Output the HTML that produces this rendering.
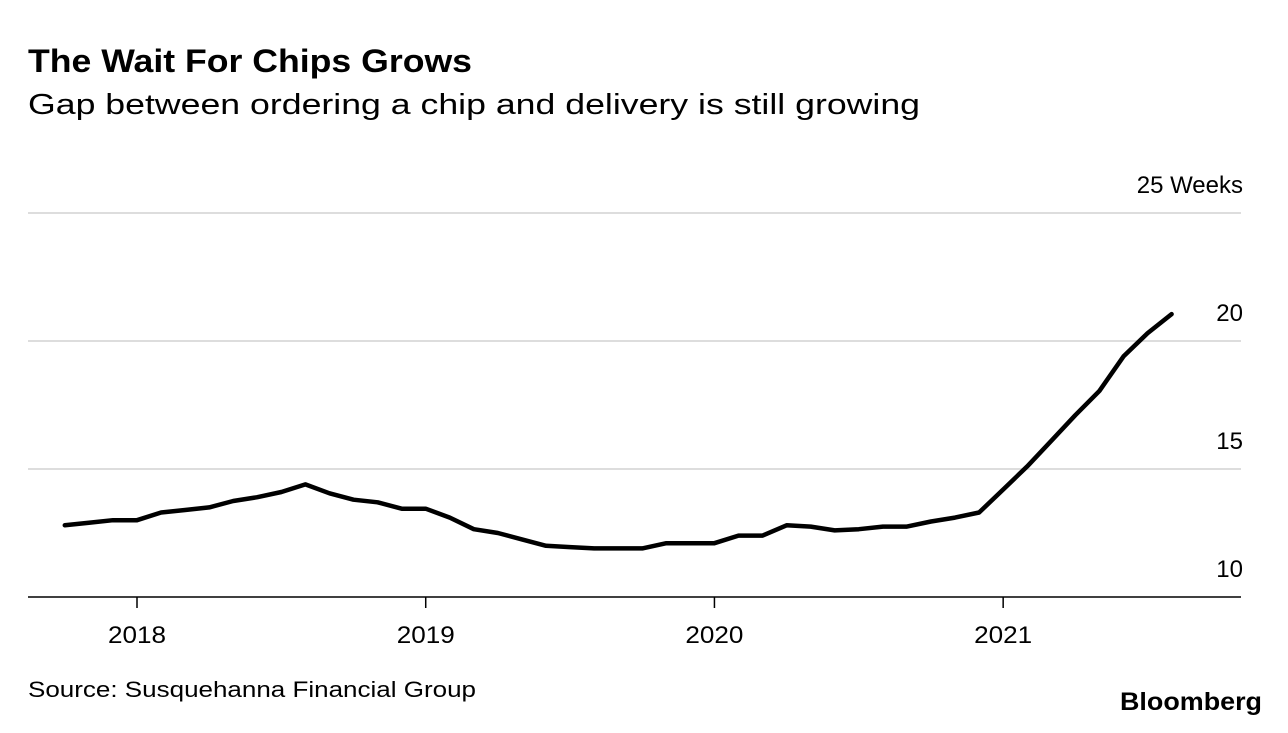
<!DOCTYPE html>
<html><head><meta charset="utf-8">
<style>
body{margin:0;background:#fff;width:1288px;height:728px;overflow:hidden;font-family:"Liberation Sans",Arial,sans-serif;}
svg text{font-family:"Liberation Sans",Arial,sans-serif;}
</style></head>
<body>
<svg width="1288" height="728">
<text x="28" y="72" font-size="32" font-weight="bold" fill="#000" textLength="444" lengthAdjust="spacingAndGlyphs">The Wait For Chips Grows</text>
<text x="28" y="114" font-size="29" fill="#000" textLength="892" lengthAdjust="spacingAndGlyphs">Gap between ordering a chip and delivery is still growing</text>
<g id="grid"></g>
<g id="ylabels"></g>
<g id="xaxis"></g>
<path id="line" fill="none" stroke="#000" stroke-width="4.5" stroke-linejoin="round" stroke-linecap="round"/>
<text x="28" y="697" font-size="22" fill="#000" textLength="448" lengthAdjust="spacingAndGlyphs">Source: Susquehanna Financial Group</text>
<text x="1120" y="710" font-size="25" font-weight="bold" fill="#000" textLength="142" lengthAdjust="spacingAndGlyphs">Bloomberg</text>
</svg>
<script>
const yTicks=[10,15,20,25];
const yTickLabels=["10","15","20","25 Weeks"];
const xYears=[2018,2019,2020,2021];
const startMonth=-3; // Oct 2017 relative to Jan 2018
const values=[12.8,12.9,13.0,13.0,13.3,13.4,13.5,13.75,13.9,14.1,14.4,14.05,13.8,13.7,13.45,13.45,13.1,12.65,12.5,12.25,12.0,11.95,11.9,11.9,11.9,12.1,12.1,12.1,12.4,12.4,12.8,12.75,12.6,12.65,12.75,12.75,12.95,13.1,13.3,14.2,15.1,16.1,17.1,18.05,19.4,20.3,21.05];
const ns="http://www.w3.org/2000/svg";
const yS=v=>597-(v-10)*25.6;
const xS=m=>137+m*24.06;
const grid=document.getElementById('grid'),yl=document.getElementById('ylabels'),xa=document.getElementById('xaxis');
yTicks.forEach((t,i)=>{
  if(t>10){const l=document.createElementNS(ns,'line');
  l.setAttribute('x1',28);l.setAttribute('x2',1241);l.setAttribute('y1',yS(t));l.setAttribute('y2',yS(t));
  l.setAttribute('stroke','#ddd');l.setAttribute('stroke-width','2');
  
  
  grid.appendChild(l);}
  const tx=document.createElementNS(ns,'text');
  tx.setAttribute('x',1243);tx.setAttribute('y',yS(t)-20);tx.setAttribute('font-size','24');tx.setAttribute('text-anchor','end');
  tx.textContent=yTickLabels[i];
  
  
  yl.appendChild(tx);
});
const ax=document.createElementNS(ns,'line');
ax.setAttribute('x1',28);ax.setAttribute('x2',1241);ax.setAttribute('y1',597);ax.setAttribute('y2',597);ax.setAttribute('stroke','#000');ax.setAttribute('stroke-width','1.5');


xa.appendChild(ax);
xYears.forEach((y,i)=>{
  const x=xS(i*12);
  const tk=document.createElementNS(ns,'line');
  tk.setAttribute('x1',x);tk.setAttribute('x2',x);tk.setAttribute('y1',597);tk.setAttribute('y2',608);tk.setAttribute('stroke','#000');tk.setAttribute('stroke-width','1.5');
  
  
  xa.appendChild(tk);
  const tx=document.createElementNS(ns,'text');
  tx.setAttribute('x',x);tx.setAttribute('y',643);tx.setAttribute('font-size','24');tx.setAttribute('text-anchor','middle');
  tx.setAttribute('textLength','58');tx.setAttribute('lengthAdjust','spacingAndGlyphs');
  tx.textContent=y;
  
  
  xa.appendChild(tx);
});
document.getElementById('line').setAttribute('d',values.map((v,i)=>(i?'L':'M')+xS(startMonth+i).toFixed(1)+','+yS(v).toFixed(1)).join(''));
</script>
</body></html>
